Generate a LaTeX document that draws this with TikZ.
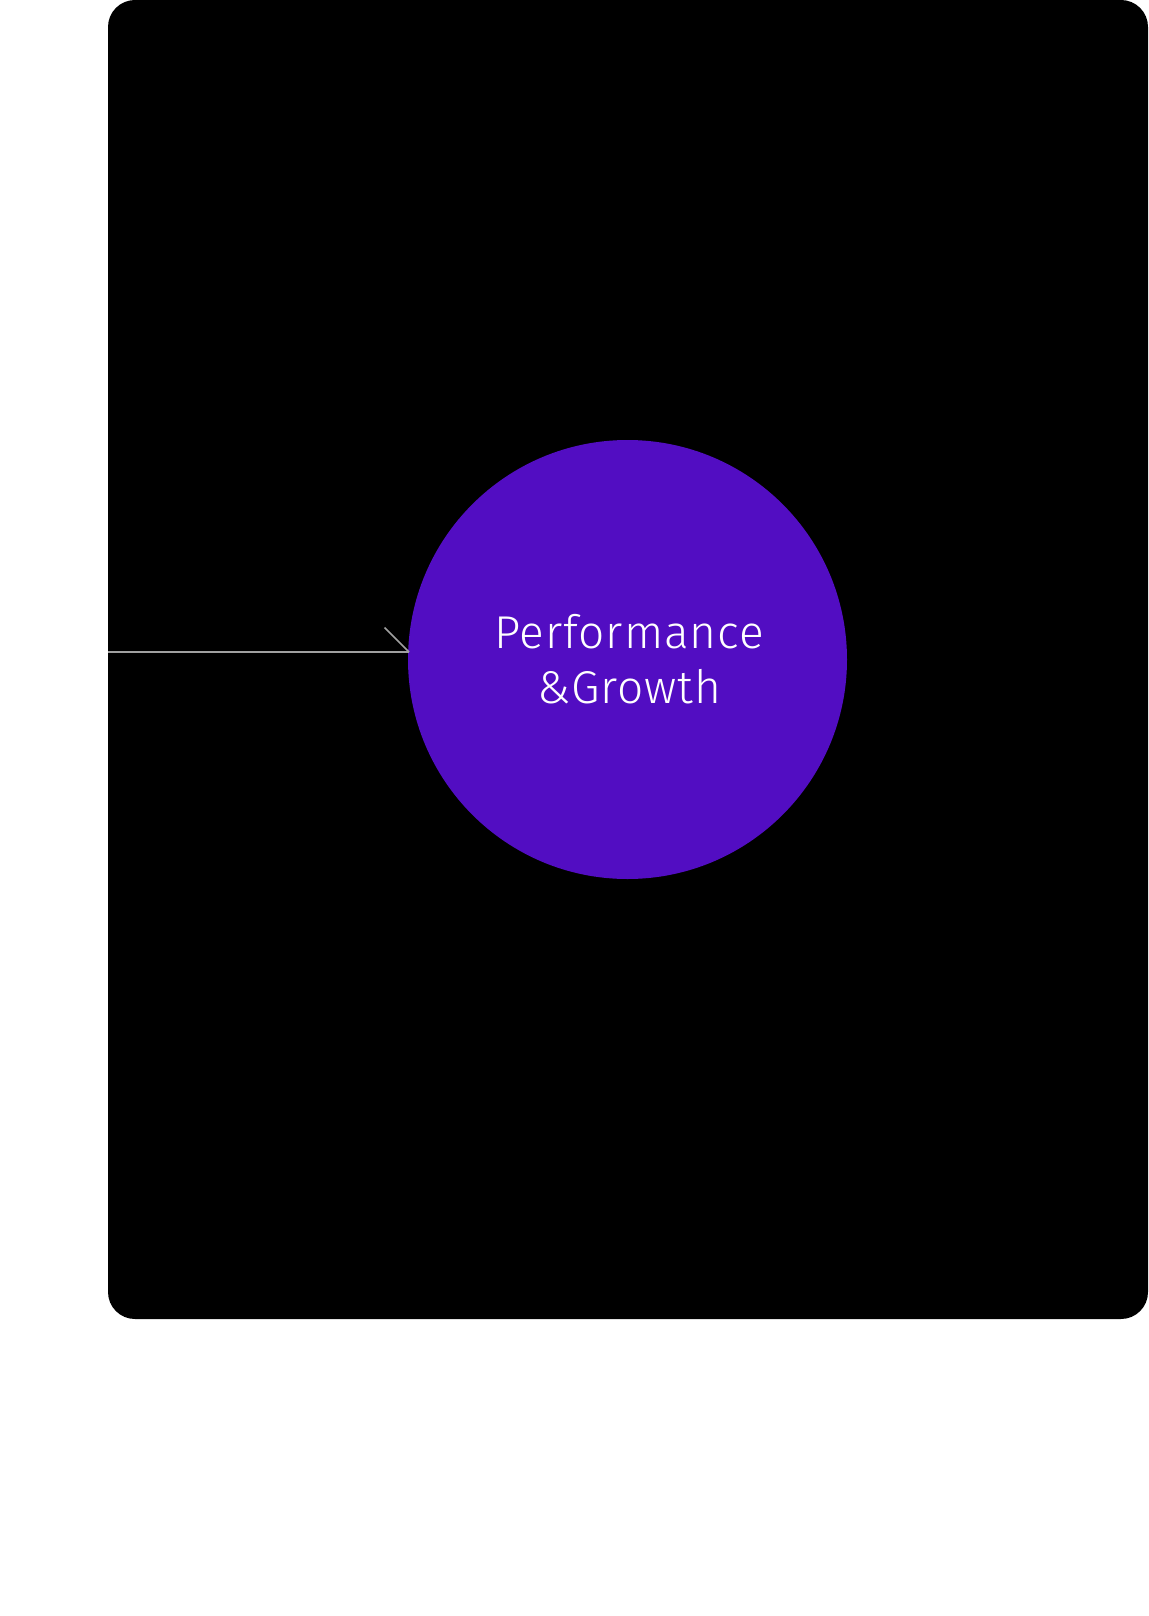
\documentclass[tikz,border=0pt]{standalone}
\usepackage{fontspec}
\newfontfamily\lightfont[LetterSpace=2]{Fira Sans Light}
\definecolor{circfill}{HTML}{520DC2}
\definecolor{linegray}{HTML}{A0A0A0}
\begin{document}
\begin{tikzpicture}[x=1pt,y=-1pt,
  panel/.style={fill=black,rounded corners=27pt},
  hub/.style={circle,fill=circfill,minimum size=439pt,inner sep=0pt},
  conn/.style={draw=linegray,line width=1.6pt},
  hubtext/.style={text=white,font=\lightfont\fontsize{46}{55}\selectfont,align=center}]
\useasboundingbox (0,0) rectangle (1148,1616);
\fill[panel] (108,0) rectangle (1148,1319);
\node[hub] (hub) at (627.5,659.5) {};
\node[hubtext] (label) at (629,659) {Performance\\\&Growth};
\coordinate (start) at (108,652);
\coordinate (tip) at (409,652);
\coordinate (barb) at (384.5,627.5);
\draw[conn] (start) -- (tip);
\draw[conn] (barb) -- (tip);
\end{tikzpicture}
\end{document}
